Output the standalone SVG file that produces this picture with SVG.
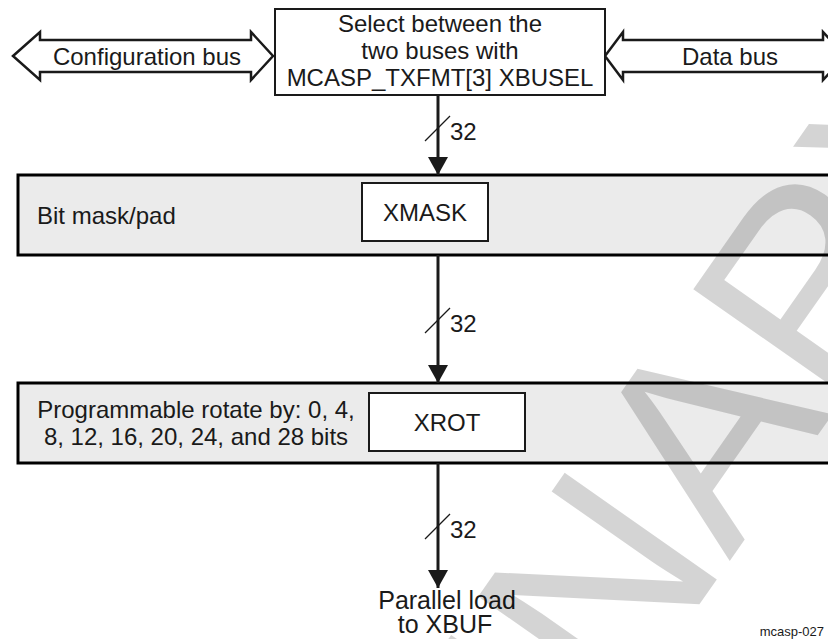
<svg xmlns="http://www.w3.org/2000/svg" width="828" height="639" viewBox="0 0 828 639">
<defs>
<marker id="ah" markerUnits="userSpaceOnUse" markerWidth="20" markerHeight="20" viewBox="0 0 18 20" refX="18" refY="10" orient="auto"><path d="M0,0 L18,10 L0,20 z" fill="#1a1a1a"/></marker>
</defs>
<style>
text{font-family:"Liberation Sans",Arial,Helvetica,sans-serif;fill:#1a1a1a}
.t24{font-size:24px}
.t25{font-size:25px}
.mid{text-anchor:middle}
.band{fill:#ebebeb;stroke:#000;stroke-width:3}
.box{fill:#fff;stroke:#1a1a1a;stroke-width:2}
.bus{fill:#fff;stroke:#1a1a1a;stroke-width:2.5;stroke-linejoin:miter}
.wire{stroke:#1a1a1a;stroke-width:3;fill:none}
.slash{stroke:#1a1a1a;stroke-width:1.2}
.wm{font-family:"Liberation Sans",Arial,sans-serif;font-size:270px;fill:#000;fill-opacity:0.17}
</style>
<rect width="828" height="639" fill="#fff"/>

<g id="config-bus">
<polygon class="bus" points="13,56 40,32 40,40 251,40 251,32 273,56 251,80 251,72 40,72 40,80"/>
<text class="t24 mid" x="147" y="65">Configuration bus</text>
</g>
<g id="data-bus">
<polygon class="bus" points="605,56 623,32 623,40 823,40 823,32 845,56 823,80 823,72 623,72 623,80"/>
<text class="t24 mid" x="730" y="65">Data bus</text>
</g>
<g id="select-box">
<rect class="box" x="275" y="9" width="330" height="86"/>
<text class="t24 mid" x="440" y="32">Select between the</text>
<text class="t24 mid" x="440" y="59">two buses with</text>
<text class="t24 mid" x="440" y="86">MCASP_TXFMT[3] XBUSEL</text>
</g>
<g id="mask-band">
<rect class="band" x="18" y="175" width="830" height="80"/>
<text class="t24" x="37" y="224">Bit mask/pad</text>
</g>
<g id="xmask">
<rect class="box" x="362" y="183" width="126" height="58"/>
<text class="t24 mid" x="425" y="221">XMASK</text>
</g>
<g id="rot-band">
<rect class="band" x="18" y="383" width="830" height="80"/>
<text class="t24 mid" x="196" y="418">Programmable rotate by: 0, 4,</text>
<text class="t24 mid" x="196" y="445">8, 12, 16, 20, 24, and 28 bits</text>
</g>
<g id="xrot">
<rect class="box" x="369" y="393" width="156" height="58"/>
<text class="t24 mid" x="447" y="431">XROT</text>
</g>
<g id="output">
<text class="t25 mid" x="447" y="609">Parallel load</text>
<text class="t25 mid" x="445" y="633">to XBUF</text>
</g>

<g id="connectors">
<line class="wire" x1="438" y1="95" x2="438" y2="175" marker-end="url(#ah)"/>
<line class="slash" x1="425" y1="141" x2="450" y2="116"/>
<text class="t24" x="450" y="140">32</text>
<line class="wire" x1="438" y1="255" x2="438" y2="383" marker-end="url(#ah)"/>
<line class="slash" x1="425" y1="333" x2="450" y2="308"/>
<text class="t24" x="450" y="332">32</text>
<line class="wire" x1="438" y1="463" x2="438" y2="588" marker-end="url(#ah)"/>
<line class="slash" x1="425" y1="539" x2="450" y2="514"/>
<text class="t24" x="450" y="538">32</text>
</g>

<g id="figure-id">
<text x="824" y="636" font-size="13" text-anchor="end">mcasp-027</text>
</g>

<g id="watermark">
<text class="wm" transform="translate(-2,1606) rotate(-55)">PRELIMINARY</text>
</g>
</svg>
